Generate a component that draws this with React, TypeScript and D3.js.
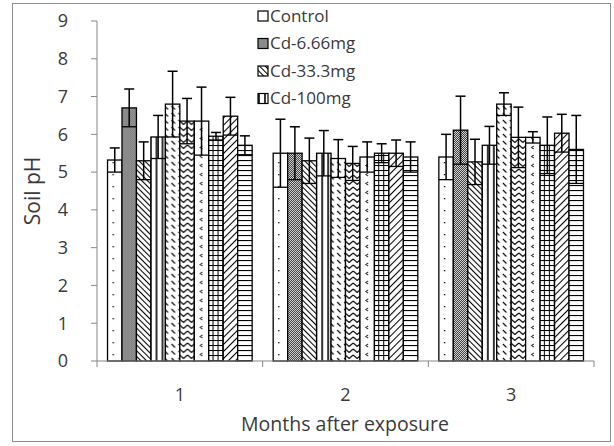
import React from 'react';
import * as d3 from 'd3';

const months = ['1', '2', '3'];
const seriesNames = ['Control', 'Cd-6.66mg', 'Cd-33.3mg', 'Cd-100mg', 'S5', 'S6', 'S7', 'S8', 'S9', 'S10'];
const legendCount = 4;
const yTicks = [0, 1, 2, 3, 4, 5, 6, 7, 8, 9];

// mean soil pH per bar, one array per month
const month1Means = [5.32, 6.7, 5.3, 5.93, 6.8, 6.35, 6.35, 5.95, 6.48, 5.71];
const month2Means = [5.5, 5.5, 5.3, 5.5, 5.36, 5.23, 5.4, 5.5, 5.5, 5.4];
const month3Means = [5.4, 6.11, 5.27, 5.71, 6.8, 5.92, 5.92, 5.71, 6.03, 5.6];
// error bar half-widths
const month1Errors = [0.32, 0.5, 0.5, 0.57, 0.87, 0.6, 0.9, 0.1, 0.5, 0.25];
const month2Errors = [0.9, 0.7, 0.6, 0.6, 0.5, 0.45, 0.4, 0.25, 0.35, 0.4];
const month3Errors = [0.6, 0.9, 0.6, 0.5, 0.3, 0.8, 0.15, 0.75, 0.5, 0.9];

const allMeans = [month1Means, month2Means, month3Means];
const allErrors = [month1Errors, month2Errors, month3Errors];

const W = 614;
const H = 446;
const font = "'Open Sans', 'Liberation Sans', sans-serif";
const axisColor = '#878787';
const textColor = '#3a3a3a';

const Patterns = () => (
  <defs>
    <pattern id="p0" width="14" height="12" patternUnits="userSpaceOnUse">
      <rect width="14" height="12" fill="#fff" />
      <rect x="5" y="6" width="1.3" height="1.3" fill="#000" />
    </pattern>
    <pattern id="p1" width="2" height="2" patternUnits="userSpaceOnUse">
      <rect width="2" height="2" fill="#f2f2f2" />
      <rect width="1" height="1" fill="#222" />
      <rect x="1" y="1" width="1" height="1" fill="#222" />
    </pattern>
    <pattern id="p2" width="4" height="4" patternUnits="userSpaceOnUse" patternTransform="rotate(-45)">
      <rect width="4" height="4" fill="#fff" />
      <line x1="0.5" y1="0" x2="0.5" y2="4" stroke="#000" strokeWidth="1.1" />
    </pattern>
    <pattern id="p3" width="6" height="6" patternUnits="userSpaceOnUse">
      <rect width="6" height="6" fill="#fff" />
      <line x1="1" y1="0" x2="1" y2="6" stroke="#000" strokeWidth="1.6" />
    </pattern>
    <pattern id="p4" width="7" height="7" patternUnits="userSpaceOnUse">
      <rect width="7" height="7" fill="#fff" />
      <line x1="1" y1="1" x2="4.5" y2="4.5" stroke="#000" strokeWidth="1.1" />
    </pattern>
    <pattern id="p5" width="8" height="6" patternUnits="userSpaceOnUse">
      <rect width="8" height="6" fill="#fff" />
      <path d="M0,1 L4,4.5 L8,1" fill="none" stroke="#000" strokeWidth="1.1" />
    </pattern>
    <pattern id="p6" width="9" height="9" patternUnits="userSpaceOnUse">
      <rect width="9" height="9" fill="#fff" />
      <path d="M5,2 L2.5,3.5 L5,5" fill="none" stroke="#000" strokeWidth="1" />
    </pattern>
    <pattern id="p7" width="5" height="5" patternUnits="userSpaceOnUse">
      <rect width="5" height="5" fill="#fff" />
      <line x1="0.5" y1="0" x2="0.5" y2="5" stroke="#000" strokeWidth="1.1" />
      <line x1="0" y1="0.5" x2="5" y2="0.5" stroke="#000" strokeWidth="1.1" />
    </pattern>
    <pattern id="p8" width="5" height="5" patternUnits="userSpaceOnUse" patternTransform="rotate(45)">
      <rect width="5" height="5" fill="#fff" />
      <line x1="0.5" y1="0" x2="0.5" y2="5" stroke="#000" strokeWidth="1.1" />
    </pattern>
    <pattern id="p9" width="5" height="5" patternUnits="userSpaceOnUse">
      <rect width="5" height="5" fill="#fff" />
      <line x1="0" y1="0.5" x2="5" y2="0.5" stroke="#000" strokeWidth="1.2" />
    </pattern>
  </defs>
);

const App = () => {
  const x0 = d3.scaleBand<string>().domain(months).range([97, 594]).paddingInner(0.127).paddingOuter(0.0635);
  const x1 = d3.scaleBand<number>().domain(d3.range(seriesNames.length)).range([0, x0.bandwidth()]);
  const y = d3.scaleLinear().domain([0, 9]).range([361, 21]);
  const bw = x1.bandwidth();

  return (
    <svg width={W} height={H} style={{ position: 'absolute', left: 0, top: 0 }}>
      <Patterns />
      <rect x={0} y={0} width={W} height={H} fill="#fff" />
      <rect x={12.5} y={3.5} width={598} height={438} fill="none" stroke="#8c8c8c" />

      {/* y axis */}
      <line x1={97} x2={97} y1={y(0)} y2={y(9)} stroke={axisColor} />
      {yTicks.map(t => (
        <g key={t}>
          <line x1={91} x2={97} y1={y(t)} y2={y(t)} stroke={axisColor} />
          <text x={68} y={y(t)} dy="0.35em" textAnchor="end" fontFamily={font} fontSize={18} fill={textColor}>{t}</text>
        </g>
      ))}
      <text transform={`translate(40,${(y(0) + y(9)) / 2}) rotate(-90)`} textAnchor="middle" fontFamily={font} fontSize={21} fill={textColor}>Soil pH</text>

      {/* bars */}
      {months.map((m, mi) => (
        <g key={m} transform={`translate(${x0(m)},0)`}>
          {seriesNames.map((s, si) => {
            const v = allMeans[mi][si];
            const e = allErrors[mi][si];
            const bx = x1(si) as number;
            const cx = bx + bw / 2;
            return (
              <g key={s}>
                <rect x={bx} y={y(v)} width={bw} height={y(0) - y(v)} fill={`url(#p${si})`} stroke="#000" strokeWidth={1.3} />
                <line x1={bx} x2={bx + bw} y1={y(v - e)} y2={y(v - e)} stroke="#000" strokeWidth={1.3} />
                <line x1={cx} x2={cx} y1={y(v - e)} y2={y(v + e)} stroke="#000" strokeWidth={1.5} />
                <line x1={cx - 5} x2={cx + 5} y1={y(v + e)} y2={y(v + e)} stroke="#000" strokeWidth={1.5} />
              </g>
            );
          })}
        </g>
      ))}

      {/* x axis */}
      <line x1={97} x2={594} y1={y(0)} y2={y(0)} stroke={axisColor} />
      {[97, ...months.map(m => (x0(m) as number) + x0.bandwidth() + x0.step() * 0.0635)].map((tx, i) => (
        <line key={i} x1={tx} x2={tx} y1={y(0)} y2={y(0) + 6} stroke={axisColor} />
      ))}
      {months.map(m => (
        <text key={m} x={(x0(m) as number) + x0.bandwidth() / 2} y={395} dy="0.35em" textAnchor="middle" fontFamily={font} fontSize={18} fill={textColor}>{m}</text>
      ))}
      <text x={345} y={424} dy="0.35em" textAnchor="middle" fontFamily={font} fontSize={19.5} fill={textColor}>Months after exposure</text>

      {/* legend */}
      {seriesNames.slice(0, legendCount).map((s, i) => (
        <g key={s} transform={`translate(258,${16 + i * 27.5})`}>
          <rect x={0} y={-5} width={10} height={10} fill={`url(#p${i})`} stroke="#000" strokeWidth={1.2} />
          <text x={12} y={0} dy="0.35em" fontFamily={font} fontSize={17} fill={textColor}>{s}</text>
        </g>
      ))}
    </svg>
  );
};

export default App;
